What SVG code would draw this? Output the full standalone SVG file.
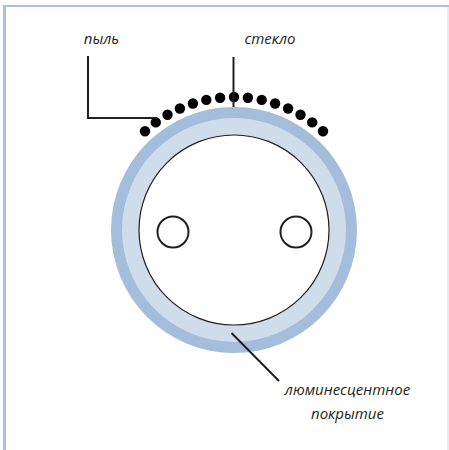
<svg xmlns="http://www.w3.org/2000/svg" width="449" height="450" viewBox="0 0 449 450">
<style>
.lbl{font-family:"Open Sans","DejaVu Sans",sans-serif;font-style:italic;font-size:15px;fill:#231f20}
.lead{fill:none;stroke:#231f20;stroke-width:2}
.dot{fill:#000}
</style>
<rect x="0" y="0" width="449" height="450" fill="#fff"/>
<g id="frame">
<line x1="3" y1="6" x2="449" y2="6" stroke="#a9c1df" stroke-width="2"/>
<line x1="4.5" y1="5" x2="4.5" y2="450" stroke="#a9c1df" stroke-width="3"/>
<line x1="448" y1="7" x2="448" y2="450" stroke="#cdd6e2" stroke-width="1"/>
</g>
<g id="tube">
<circle cx="234" cy="230" r="123" fill="#a3bddb"/>
<circle cx="234" cy="230" r="112" fill="#cfdcea"/>
<circle cx="234" cy="230" r="95" fill="#fff" stroke="#231f20" stroke-width="1.2"/>
</g>
<g id="electrode-left"><circle cx="173" cy="232" r="15.5" fill="#fff" stroke="#231f20" stroke-width="2"/></g>
<g id="electrode-right"><circle cx="296" cy="232" r="15.5" fill="#fff" stroke="#231f20" stroke-width="2"/></g>
<g id="dust">
<circle class="dot" cx="145" cy="131.2" r="5.2"/>
<circle class="dot" cx="155.8" cy="122.4" r="5.2"/>
<circle class="dot" cx="167.5" cy="114.8" r="5.2"/>
<circle class="dot" cx="179.9" cy="108.5" r="5.2"/>
<circle class="dot" cx="192.9" cy="103.5" r="5.2"/>
<circle class="dot" cx="206.3" cy="99.9" r="5.2"/>
<circle class="dot" cx="220.1" cy="97.7" r="5.2"/>
<circle class="dot" cx="234" cy="97" r="5.2"/>
<circle class="dot" cx="247.9" cy="97.7" r="5.2"/>
<circle class="dot" cx="261.7" cy="99.9" r="5.2"/>
<circle class="dot" cx="275.1" cy="103.5" r="5.2"/>
<circle class="dot" cx="288.1" cy="108.5" r="5.2"/>
<circle class="dot" cx="300.5" cy="114.8" r="5.2"/>
<circle class="dot" cx="312.2" cy="122.4" r="5.2"/>
<circle class="dot" cx="323" cy="131.2" r="5.2"/>
</g>
<g id="connectors">
<polyline class="lead" points="88,56 88,118 157,118"/>
<line class="lead" x1="233.5" y1="57" x2="233.5" y2="107"/>
<line class="lead" x1="231.5" y1="333" x2="279" y2="381"/>
</g>
<g id="label-dust"><text class="lbl" x="101.5" y="44" text-anchor="middle">пыль</text></g>
<g id="label-glass"><text class="lbl" x="270" y="44" text-anchor="middle">стекло</text></g>
<g id="label-coating"><text class="lbl" x="347.5" y="395" text-anchor="middle">люминесцентное</text><text class="lbl" x="347.5" y="419" text-anchor="middle">покрытие</text></g>
</svg>
